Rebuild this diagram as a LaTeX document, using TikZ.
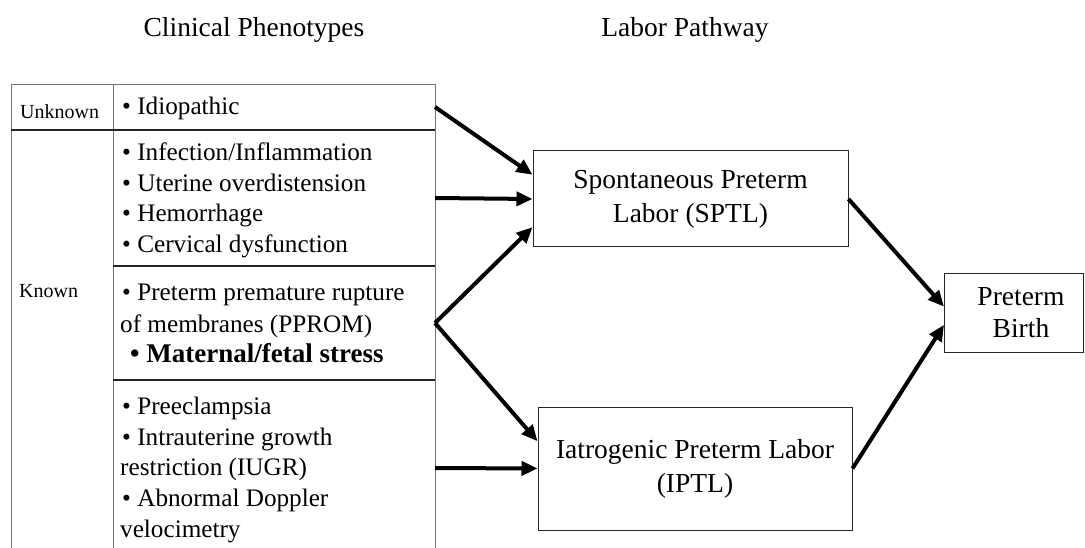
\documentclass[tikz,border=0pt]{standalone}
\usepackage{fontspec}
\setmainfont{Liberation Serif}
\usetikzlibrary{arrows.meta,calc}
\tikzset{
  cell/.style={anchor=base west, inner sep=0pt, font=\fontsize{25.2}{28}\selectfont},
  side/.style={anchor=base west, inner sep=0pt, font=\fontsize{20}{24}\selectfont},
  head/.style={anchor=base, inner sep=0pt, font=\fontsize{27.5}{32}\selectfont},
  pbox/.style={draw=black!85, line width=1pt, inner sep=0pt, align=center, font=\fontsize{27.5}{34}\selectfont},
  tline/.style={draw=black!55, line width=1pt},
  tlinedark/.style={draw=black!85, line width=1.2pt},
  flow/.style={draw=black, line width=4pt, -{Triangle[length=16pt,width=14pt]}}
}
\begin{document}
\begin{tikzpicture}[x=1pt,y=-1pt]
\useasboundingbox (0,0) rectangle (1085,548);
% headers
\node[head] (h1) at (254,37) {Clinical Phenotypes};
\node[head] (h2) at (685,37) {Labor Pathway};
% table lines
\draw[tline] (11,548) -- (11,85) -- (435,85) -- (435,548);
\draw[tline] (113,85) -- (113,548);
\draw[tlinedark] (11,130) -- (435,130);
\draw[tlinedark] (113,266) -- (435,266);
\draw[tlinedark] (113,380) -- (435,380);
% side labels
\node[side] (unk) at (20,119) {Unknown};
\node[side] (kn) at (19,298) {Known};
% row 1
\node[cell] (r1a) at (122,115) {• Idiopathic};
% row 2
\node[cell] (r2a) at (122,161) {• Infection/Inflammation};
\node[cell] (r2b) at (122,192) {• Uterine overdistension};
\node[cell] (r2c) at (122,222) {• Hemorrhage};
\node[cell] (r2d) at (122,253) {• Cervical dysfunction};
% row 3
\node[cell] (r3a) at (122,301) {• Preterm premature rupture};
\node[cell] (r3b) at (120,332) {of membranes (PPROM)};
\node[cell,font=\fontsize{27}{30}\selectfont\bfseries] (r3c) at (130,362) {• Maternal/fetal stress};
% row 4
\node[cell] (r4a) at (122,414) {• Preeclampsia};
\node[cell] (r4b) at (122,445) {• Intrauterine growth};
\node[cell] (r4c) at (120,475) {restriction (IUGR)};
\node[cell] (r4d) at (122,506) {• Abnormal Doppler};
\node[cell] (r4e) at (120,537) {velocimetry};
% arrow start points on table edge
\coordinate (s1) at (435,107);
\coordinate (s2) at (435,198);
\coordinate (s3) at (435,323);
\coordinate (s5) at (435,468);
% pathway boxes
\node[pbox, minimum width=315pt, minimum height=96pt] (sptl) at (690.5,199) {Spontaneous Preterm\\Labor (SPTL)};
\node[pbox, minimum width=314pt, minimum height=123pt] (iptl) at (695,468.5) {Iatrogenic Preterm Labor\\(IPTL)};
\node[pbox, minimum width=139pt, minimum height=78pt, font=\fontsize{27.5}{32}\selectfont] (pb) at (1014,313) {\hspace*{14pt}Preterm\\\hspace*{14pt}Birth};
% arrows
\draw[flow] (s1) -- ($(sptl.north west)!0.25!(sptl.south west)$);
\draw[flow] (s2) -- (sptl.west);
\draw[flow] (s3) -- ($(sptl.north west)!0.79!(sptl.south west)$);
\draw[flow] (s3) -- ($(iptl.north west)!0.28!(iptl.south west)$);
\draw[flow] (s5) -- (iptl.west);
\draw[flow] (sptl.east) -- ($(pb.north west)!0.42!(pb.south west)$);
\draw[flow] (iptl.east) -- ($(pb.north west)!0.65!(pb.south west)$);
\end{tikzpicture}
\end{document}
